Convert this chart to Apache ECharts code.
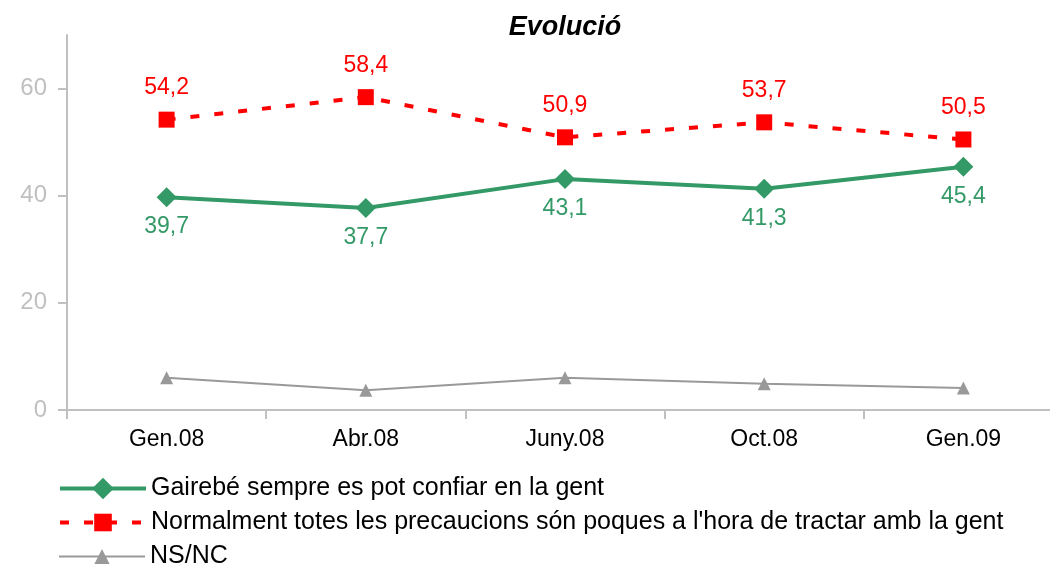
<!DOCTYPE html>
<html>
<head>
<meta charset="utf-8">
<script src="https://cdn.jsdelivr.net/npm/echarts@6/dist/echarts.min.js"></script>
<style>
  html, body { margin: 0; padding: 0; background: #fff; }
  #main { width: 1050px; height: 567px; }
</style>
</head>
<body>
<div id="main"></div>
<script>
const categories = ['Gen.08', 'Abr.08', 'Juny.08', 'Oct.08', 'Gen.09']
const confiar = [39.7, 37.7, 43.1, 41.3, 45.4]
const precaucions = [54.2, 58.4, 50.9, 53.7, 50.5]
const nsnc = [6.0, 3.7, 6.0, 4.9, 4.1]
const yTicks = [0, 20, 40, 60]

const seriesNames = [
    'Gairebé sempre es pot confiar en la gent',
    "Normalment totes les precaucions són poques a l'hora de tractar amb la gent",
    'NS/NC'
]

// format amb coma decimal
const fmt = p => p.value.toFixed(1).replace('.', ',')

// una llegenda per fila
const legendRow = (name, top, lineWidth, symH) => ({
    left: 58,
    top: top,
    padding: 0,
    itemWidth: 86,
    itemHeight: symH,
    lineStyle: { width: lineWidth },
    textStyle: {
        fontFamily: 'Liberation Sans',
        fontSize: 25,
        color: '#000'
    },
    data: [name]
})

var myChart = echarts.init(document.getElementById('main'))
let option = {
    backgroundColor: '#fff',
    animation: false,
    title: {
        text: 'Evolució',
        left: 560,
        textAlign: 'center',
        top: 9,
        textStyle: {
            fontFamily: 'Liberation Sans',
            fontStyle: 'italic',
            fontWeight: 'bold',
            fontSize: 27,
            color: '#000'
        }
    },
    legend: [
        legendRow(seriesNames[0], 476, 4, 27),
        legendRow(seriesNames[1], 510, 4, 22),
        legendRow(seriesNames[2], 544, 2, 19)
    ],
    grid: {
        left: 67,
        right: -13,
        top: 35,
        bottom: 157,
        outerBoundsMode: 'none'
    },
    xAxis: {
        type: 'category',
        data: categories,
        boundaryGap: true,
        axisLine: { lineStyle: { color: '#c0c0c0', width: 2 } },
        axisTick: { show: true, length: 9, lineStyle: { color: '#c0c0c0', width: 2 } },
        axisLabel: {
            margin: 18,
            fontFamily: 'Liberation Sans',
            fontSize: 23,
            color: '#000'
        },
        splitLine: { show: false }
    },
    yAxis: {
        type: 'value',
        min: 0,
        max: 70,
        axisLine: { show: true, lineStyle: { color: '#c0c0c0', width: 2 } },
        axisTick: {
            show: true,
            length: 9,
            customValues: yTicks,
            lineStyle: { color: '#c0c0c0', width: 2 }
        },
        axisLabel: {
            customValues: yTicks,
            margin: 20,
            fontFamily: 'Liberation Sans',
            fontSize: 24,
            color: '#c0c0c0'
        },
        splitLine: { show: false }
    },
    series: [
        {
            name: seriesNames[0],
            type: 'line',
            data: confiar,
            symbol: 'diamond',
            symbolSize: 20,
            itemStyle: { color: '#339966' },
            lineStyle: { color: '#339966', width: 4 },
            label: {
                show: true,
                position: 'bottom',
                distance: 8,
                formatter: fmt,
                fontFamily: 'Liberation Sans',
                fontSize: 23,
                color: '#339966'
            },
            z: 3
        },
        {
            name: seriesNames[1],
            type: 'line',
            data: precaucions,
            symbol: 'rect',
            symbolSize: 16,
            itemStyle: { color: '#ff0000' },
            lineStyle: { color: '#ff0000', width: 4, type: [9, 15] },
            label: {
                show: true,
                position: 'top',
                distance: 12,
                formatter: fmt,
                fontFamily: 'Liberation Sans',
                fontSize: 23,
                color: '#ff0000'
            },
            z: 4
        },
        {
            name: seriesNames[2],
            type: 'line',
            data: nsnc,
            symbol: 'triangle',
            symbolSize: 13,
            itemStyle: { color: '#999999' },
            lineStyle: { color: '#999999', width: 2 },
            z: 2
        }
    ]
}
myChart.setOption(option)
</script>
</body>
</html>
